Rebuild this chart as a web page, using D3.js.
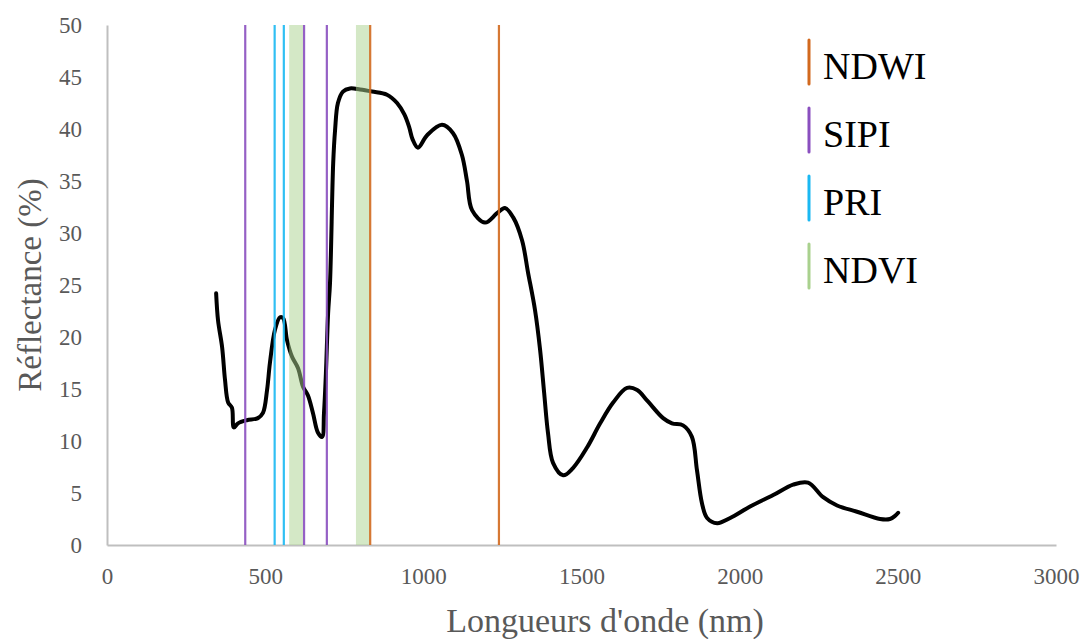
<!DOCTYPE html>
<html>
<head>
<meta charset="utf-8">
<script src="https://cdn.jsdelivr.net/npm/d3@7"></script>
<style>
  html, body { margin: 0; padding: 0; background: #fff; }
  svg { display: block; }
  text { font-family: "Liberation Serif", "Times New Roman", serif; }
</style>
</head>
<body>
<svg id="chart" width="1091" height="639"></svg>
<script>
// ---- Data ----
const wavelengths = [345, 351, 364, 373, 383, 395, 401, 414, 442, 477, 493, 506, 515, 531, 547, 557, 569, 585, 604, 620, 635, 651, 667, 680, 686, 692, 699, 705, 715, 721, 730, 746, 768, 800, 838, 885, 917, 940, 955, 966, 983, 1012, 1059, 1094, 1122, 1138, 1154, 1195, 1233, 1258, 1284, 1312, 1331, 1353, 1369, 1382, 1394, 1410, 1442, 1473, 1518, 1559, 1600, 1644, 1676, 1710, 1758, 1786, 1821, 1849, 1865, 1881, 1897, 1929, 1970, 2033, 2106, 2169, 2216, 2264, 2308, 2371, 2444, 2475, 2491, 2501];
const reflectance = [24.2, 21.6, 19.0, 15.9, 13.7, 13.2, 11.3, 11.7, 12.0, 12.2, 12.7, 14.9, 17.5, 20.7, 21.9, 21.8, 19.7, 18.1, 17.0, 15.2, 14.4, 12.7, 10.8, 10.4, 12.7, 16.5, 22.3, 25.2, 36.7, 39.9, 42.5, 43.6, 43.9, 43.8, 43.6, 43.3, 42.5, 41.4, 40.2, 39.0, 38.2, 39.4, 40.4, 39.6, 37.5, 35.0, 32.2, 31.0, 31.9, 32.4, 31.5, 29.3, 26.2, 22.6, 18.8, 14.6, 10.8, 7.9, 6.7, 7.4, 9.4, 11.7, 13.7, 15.1, 14.9, 13.8, 12.2, 11.7, 11.5, 10.4, 7.2, 4.0, 2.6, 2.1, 2.6, 3.7, 4.8, 5.8, 6.0, 4.6, 3.8, 3.2, 2.5, 2.5, 2.8, 3.1];

const xTicks = [0, 500, 1000, 1500, 2000, 2500, 3000];
const yTicks = [0, 5, 10, 15, 20, 25, 30, 35, 40, 45, 50];

const indexNames = ["NDWI", "SIPI", "PRI", "NDVI"];
const indexColors = ["#d2691e", "#8a4fbf", "#1ab8f2", "#a9d18e"];
const ndwiLines = [832, 1239];
const sipiLines = [437, 623, 695];
const priLines = [530, 559];
const ndviBands = [[576, 620], [787, 831]];

const xTitle = "Longueurs d'onde (nm)";
const yTitle = "Réflectance (%)";

// ---- Layout ----
const svg = d3.select("#chart");
const margin = { left: 107, right: 35, top: 25, bottom: 94 };
const W = 1091, H = 639;
const x = d3.scaleLinear().domain([0, 3000]).range([margin.left, W - margin.right]);
const y = d3.scaleLinear().domain([0, 50]).range([H - margin.bottom, margin.top]);

const axisColor = "#bfbfbf";
const labelColor = "#595959";

// Axes
const xAxis = svg.append("g").attr("transform", `translate(0,${y(0)})`)
  .call(d3.axisBottom(x).tickValues(xTicks).tickSize(0).tickPadding(23).tickFormat(d3.format("d")));
const yAxis = svg.append("g").attr("transform", `translate(${x(0)},0)`)
  .call(d3.axisLeft(y).tickValues(yTicks).tickSize(0).tickPadding(25).tickFormat(d3.format("d")));
[xAxis, yAxis].forEach(g => {
  g.select(".domain").attr("stroke", axisColor).attr("stroke-width", 2);
  g.selectAll("text").attr("fill", labelColor).style("font-size", "23px")
    .style("font-family", '"Liberation Serif", "Times New Roman", serif');
});

// Curve
const pts = wavelengths.map((w, i) => [w, reflectance[i]]);
const line = d3.line().x(d => x(d[0])).y(d => y(d[1])).curve(d3.curveCatmullRom.alpha(0.5));
svg.append("path").datum(pts).attr("d", line)
  .attr("fill", "none").attr("stroke", "#000").attr("stroke-width", 4)
  .attr("stroke-linejoin", "round").attr("stroke-linecap", "round");

// NDVI bands
svg.append("g").selectAll("rect").data(ndviBands).join("rect")
  .attr("x", d => x(d[0])).attr("width", d => x(d[1]) - x(d[0]))
  .attr("y", y(50)).attr("height", y(0) - y(50))
  .attr("fill", indexColors[3]).attr("fill-opacity", 0.5);

// Vertical lines
const vlines = [
  ...sipiLines.map(v => ({ v, c: indexColors[1] })),
  ...priLines.map(v => ({ v, c: indexColors[2] })),
  ...ndwiLines.map(v => ({ v, c: indexColors[0] })),
];
svg.append("g").selectAll("line").data(vlines).join("line")
  .attr("x1", d => x(d.v)).attr("x2", d => x(d.v))
  .attr("y1", y(50)).attr("y2", y(0))
  .attr("stroke", d => d.c).attr("stroke-width", 2.2).attr("stroke-opacity", 0.9);

// Legend
const legend = svg.append("g").attr("transform", "translate(809,62)");
indexNames.forEach((name, i) => {
  const g = legend.append("g").attr("transform", `translate(0,${i * 68})`);
  g.append("line").attr("x1", 0).attr("x2", 0).attr("y1", -22).attr("y2", 22)
    .attr("stroke", indexColors[i]).attr("stroke-width", 3).attr("stroke-linecap", "round");
  g.append("text").attr("x", 14).attr("y", 4).attr("dy", "0.35em")
    .attr("fill", "#000").style("font-size", "38px").text(name);
});

// Axis titles
svg.append("text").attr("x", 605).attr("y", 632)
  .attr("text-anchor", "middle").attr("fill", labelColor).style("font-size", "34px").text(xTitle);
svg.append("text").attr("transform", `translate(41,${(y(0) + y(50)) / 2}) rotate(-90)`)
  .attr("text-anchor", "middle").attr("fill", labelColor).style("font-size", "33px").text(yTitle);
</script>
</body>
</html>
